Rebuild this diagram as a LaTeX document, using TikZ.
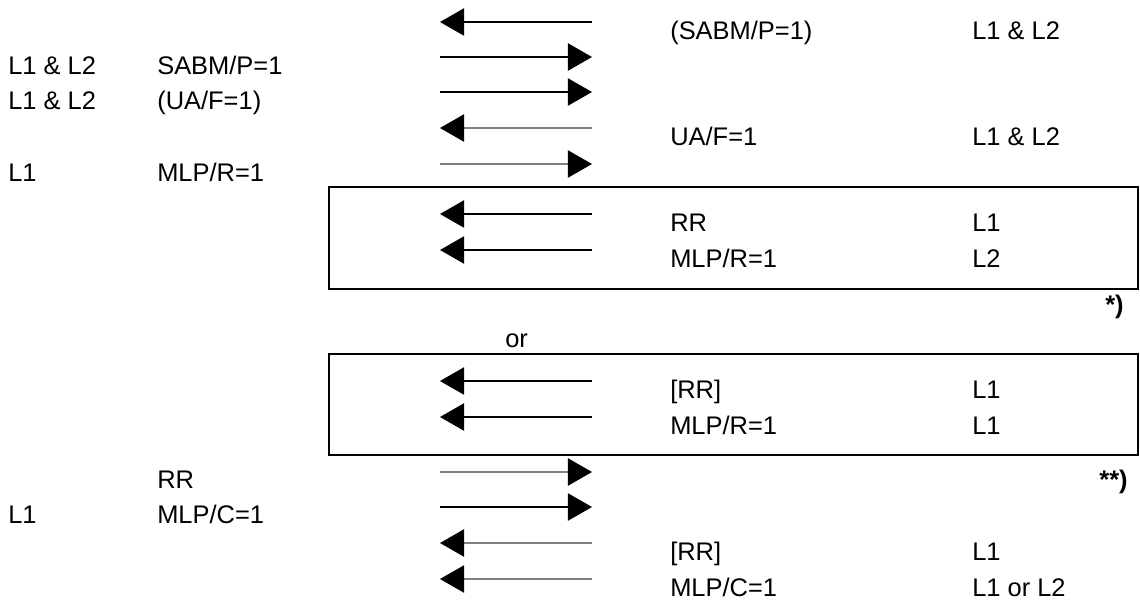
\documentclass[tikz,border=0pt]{standalone}
\usepackage{fontspec}
\setmainfont{Liberation Sans}
\usetikzlibrary{arrows.meta}

\begin{document}
\begin{tikzpicture}[
  x=0.025cm, y=-0.025cm,
  every node/.style={font=\fontsize{18.1pt}{22pt}\selectfont, inner sep=0pt, anchor=base west},
  msg/.style={line width=1pt, -{Triangle[length=6mm, width=6.8mm, color=black]}},
  msgpale/.style={msg, draw=gray},
  frame/.style={draw, line width=1.8pt},
  note/.style={anchor=base east, font=\fontsize{18.1pt}{22pt}\selectfont\bfseries}
]
 \useasboundingbox (0,0) rectangle (1140,601);

 % Setup: SABM / UA
 \coordinate (p1) at (440,22);  \coordinate (q1) at (592,22);
 \node (m1) at (670,39) {(SABM/P=1)};
 \node (k1) at (972,39) {L1 \& L2};
 \draw[msg] (q1) -- (p1);

 \coordinate (p2) at (440,57);  \coordinate (q2) at (592,57);
 \node (k2) at (8,74)   {L1 \& L2};
 \node (m2) at (157,74) {SABM/P=1};
 \draw[msg] (p2) -- (q2);

 \coordinate (p3) at (440,92);  \coordinate (q3) at (592,92);
 \node (k3) at (8,109)   {L1 \& L2};
 \node (m3) at (157,109) {(UA/F=1)};
 \draw[msg] (p3) -- (q3);

 \coordinate (p4) at (440,128); \coordinate (q4) at (592,128);
 \node (m4) at (670,145) {UA/F=1};
 \node (k4) at (972,145) {L1 \& L2};
 \draw[msgpale] (q4) -- (p4);

 % MLP reset
 \coordinate (p5) at (440,164); \coordinate (q5) at (592,164);
 \node (k5) at (8,181)   {L1};
 \node (m5) at (157,181) {MLP/R=1};
 \draw[msgpale] (p5) -- (q5);

 % first variant
 \draw[frame] (329,187) rectangle (1138,289);
 \coordinate (p6) at (440,214); \coordinate (q6) at (592,214);
 \node (m6) at (670,231) {RR};
 \node (k6) at (972,231) {L1};
 \draw[msg] (q6) -- (p6);

 \coordinate (p7) at (440,250); \coordinate (q7) at (592,250);
 \node (m7) at (670,267) {MLP/R=1};
 \node (k7) at (972,267) {L2};
 \draw[msg] (q7) -- (p7);

 \node[note] (n1) at (1124,313) {*)};
 \node (or) at (505,347) {or};

 % second variant
 \draw[frame] (329,354) rectangle (1138,455);
 \coordinate (p8) at (440,381); \coordinate (q8) at (592,381);
 \node (m8) at (670,398) {[RR]};
 \node (k8) at (972,398) {L1};
 \draw[msg] (q8) -- (p8);

 \coordinate (p9) at (440,417); \coordinate (q9) at (592,417);
 \node (m9) at (670,434) {MLP/R=1};
 \node (k9) at (972,434) {L1};
 \draw[msg] (q9) -- (p9);

 % MLP clear
 \coordinate (p10) at (440,472); \coordinate (q10) at (592,472);
 \node (m10) at (157,488) {RR};
 \node[note] (n2) at (1128,488) {**)};
 \draw[msgpale] (p10) -- (q10);

 \coordinate (p11) at (440,507); \coordinate (q11) at (592,507);
 \node (k11) at (8,523)   {L1};
 \node (m11) at (157,523) {MLP/C=1};
 \draw[msg] (p11) -- (q11);

 \coordinate (p12) at (440,543); \coordinate (q12) at (592,543);
 \node (m12) at (670,560) {[RR]};
 \node (k12) at (972,560) {L1};
 \draw[msgpale] (q12) -- (p12);

 \coordinate (p13) at (440,579); \coordinate (q13) at (592,579);
 \node (m13) at (670,596) {MLP/C=1};
 \node (k13) at (972,596) {L1 or L2};
 \draw[msgpale] (q13) -- (p13);
\end{tikzpicture}
\end{document}
